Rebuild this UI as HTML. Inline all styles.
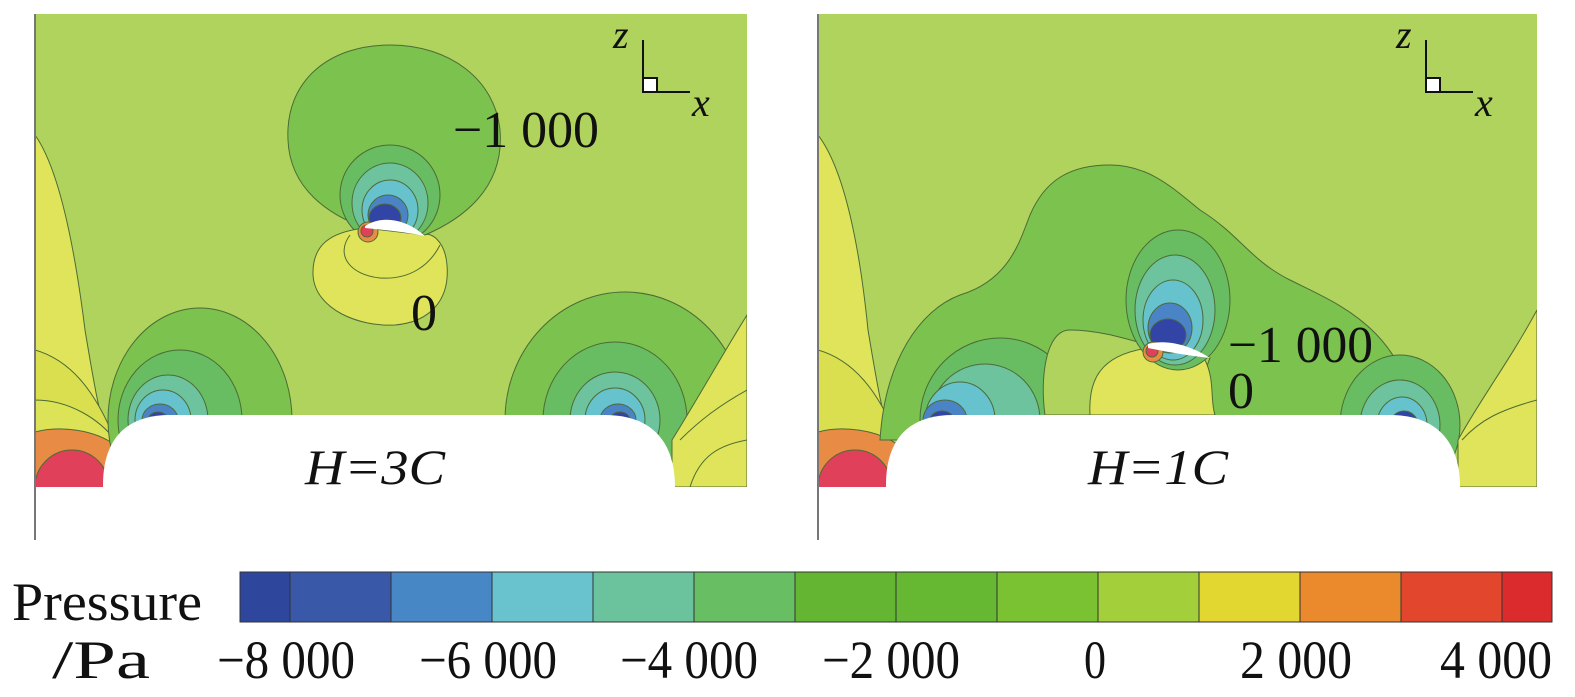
<!DOCTYPE html><html><head><style>body{margin:0;background:#fff}svg{display:block}text{font-family:"Liberation Serif",serif;fill:#111}</style></head><body>
<svg width="1575" height="697" viewBox="0 0 1575 697" xmlns="http://www.w3.org/2000/svg">
<defs>
<clipPath id="c1"><rect x="35" y="14" width="712" height="473"/></clipPath>
<clipPath id="c2"><rect x="818" y="14" width="719" height="473"/></clipPath>
</defs>
<g stroke="#4d6b35" stroke-width="1">
<!-- LEFT PANEL -->
<g clip-path="url(#c1)">
<rect x="35" y="14" width="712" height="473" fill="#afd35c" stroke="none"/>
<path d="M35,135 C60,170 75,250 85,330 C95,390 100,420 110,440 L35,440 Z" fill="#dfe45a"/>
<path d="M35,350 C70,360 95,390 115,440 L35,440 Z" fill="#d9df4e"/>
<path d="M35,400 C70,400 100,420 115,440 L35,487 Z" fill="#dde356"/>
<path d="M35,432 C60,425 95,430 115,445 L105,487 L35,487 Z" fill="#e88c45"/>
<circle cx="72" cy="487" r="37" fill="#e0405a"/>
<ellipse cx="200" cy="420" rx="92" ry="112" fill="#7bc24e"/>
<ellipse cx="180" cy="420" rx="62" ry="70" fill="#68bd62"/>
<ellipse cx="168" cy="420" rx="40" ry="45" fill="#6cc39d"/>
<ellipse cx="163" cy="420" rx="28" ry="30" fill="#66c2cc"/>
<ellipse cx="160" cy="420" rx="18" ry="16" fill="#4a84c6"/>
<ellipse cx="158" cy="420" rx="10" ry="8" fill="#3244a6"/>
<ellipse cx="625" cy="420" rx="120" ry="128" fill="#7bc24e"/>
<ellipse cx="615" cy="420" rx="72" ry="78" fill="#68bd62"/>
<ellipse cx="615" cy="420" rx="45" ry="48" fill="#6cc39d"/>
<ellipse cx="615" cy="420" rx="30" ry="32" fill="#66c2cc"/>
<ellipse cx="618" cy="420" rx="18" ry="16" fill="#4a84c6"/>
<ellipse cx="620" cy="420" rx="10" ry="8" fill="#3244a6"/>
<path d="M747,315 C725,350 700,395 672,440 L672,487 L747,487 Z" fill="#dfe45a"/>
<path d="M747,390 C720,405 700,420 680,440" fill="none"/>
<path d="M747,440 C720,445 700,455 690,487" fill="none"/>
<path d="M365,228 C330,215 290,190 288,140 C285,80 330,45 390,45 C450,45 495,80 500,130 C505,190 460,220 425,235 Z" fill="#7bc24e"/>
<ellipse cx="390" cy="195" rx="50" ry="50" fill="#68bd62"/>
<ellipse cx="390" cy="203" rx="38" ry="40" fill="#6cc39d"/>
<ellipse cx="390" cy="210" rx="28" ry="30" fill="#66c2cc"/>
<ellipse cx="388" cy="215" rx="20" ry="20" fill="#4a84c6"/>
<ellipse cx="385" cy="218" rx="16" ry="14" fill="#3244a6"/>
<path d="M365,228 C330,232 312,245 313,275 C315,310 360,327 395,325 C430,322 450,300 447,265 C445,240 430,232 425,235 Z" fill="#dfe45a"/>
<path d="M350,235 C335,255 350,275 380,278 C410,280 430,265 440,245" fill="none"/>
<circle cx="368" cy="232" r="10" fill="#e88c45"/>
<circle cx="367" cy="231" r="6" fill="#e0405a"/>
<path d="M365,226 C385,213 410,222 425,236 C405,232 385,230 365,228 Z" fill="#fff" stroke="none"/>
</g>
<path d="M103,487 L103,485 C103,440 125,415 170,415 L605,415 C650,415 675,440 675,487 Z" fill="#fff" stroke="none"/>
<!-- RIGHT PANEL -->
<g clip-path="url(#c2)">
<rect x="818" y="14" width="719" height="473" fill="#afd35c" stroke="none"/>
<path d="M818,135 C845,170 860,250 868,330 C878,390 883,420 893,440 L818,440 Z" fill="#dfe45a"/>
<path d="M818,350 C853,360 878,390 898,440 L818,440 Z" fill="#d9df4e"/>
<path d="M818,432 C843,425 878,430 898,445 L888,487 L818,487 Z" fill="#e88c45"/>
<circle cx="855" cy="487" r="37" fill="#e0405a"/>
<path d="M880,440 C885,360 920,310 960,295 C1010,280 1020,240 1030,215 C1045,180 1070,165 1110,165 C1150,165 1175,190 1200,210 C1240,235 1250,260 1290,280 C1340,305 1410,330 1420,440 Z" fill="#7bc24e"/>
<ellipse cx="1000" cy="420" rx="80" ry="82" fill="#68bd62"/>
<ellipse cx="985" cy="420" rx="55" ry="56" fill="#6cc39d"/>
<ellipse cx="960" cy="420" rx="35" ry="38" fill="#66c2cc"/>
<ellipse cx="945" cy="420" rx="22" ry="20" fill="#4a84c6"/>
<ellipse cx="942" cy="420" rx="12" ry="9" fill="#3244a6"/>
<ellipse cx="1400" cy="425" rx="60" ry="70" fill="#68bd62"/>
<ellipse cx="1400" cy="425" rx="40" ry="45" fill="#6cc39d"/>
<ellipse cx="1402" cy="425" rx="25" ry="28" fill="#66c2cc"/>
<ellipse cx="1404" cy="425" rx="14" ry="14" fill="#3244a6"/>
<path d="M1537,310 C1510,360 1480,400 1458,440 L1458,487 L1537,487 Z" fill="#dfe45a"/>
<path d="M1537,400 C1500,410 1480,420 1462,440" fill="none"/>
<path d="M1045,415 C1040,380 1045,330 1070,330 C1100,330 1130,340 1148,345 L1210,358 C1200,380 1210,400 1215,415 Z" fill="#afd35c"/>
<path d="M1090,415 C1088,380 1100,355 1148,348 C1170,350 1190,355 1205,360 C1215,380 1210,400 1215,415 Z" fill="#dfe45a"/>
<ellipse cx="1178" cy="300" rx="52" ry="70" fill="#68bd62"/>
<ellipse cx="1175" cy="310" rx="40" ry="55" fill="#6cc39d"/>
<ellipse cx="1173" cy="320" rx="30" ry="40" fill="#66c2cc"/>
<ellipse cx="1170" cy="328" rx="22" ry="25" fill="#4a84c6"/>
<ellipse cx="1168" cy="335" rx="18" ry="16" fill="#3244a6"/>
<circle cx="1153" cy="352" r="10" fill="#e88c45"/>
<circle cx="1152" cy="351" r="6" fill="#e0405a"/>
<path d="M1148,344 C1170,338 1195,348 1210,358 C1190,356 1168,352 1148,348 Z" fill="#fff" stroke="none"/>
</g>
<path d="M886,487 L886,485 C886,440 908,415 953,415 L1390,415 C1435,415 1460,440 1460,487 Z" fill="#fff" stroke="none"/>
</g>
<path d="M35,14 V540" stroke="#777" stroke-width="2"/>
<path d="M818,14 V540" stroke="#777" stroke-width="2"/>
<g stroke="#111" stroke-width="2" fill="none">
<path d="M643,40 V92 H690"/><rect x="643" y="78" width="14" height="14" fill="#fff"/>
<path d="M1426,40 V92 H1473"/><rect x="1426" y="78" width="14" height="14" fill="#fff"/>
</g>
<g font-style="italic" font-size="40">
<text x="613" y="48">z</text><text x="692" y="116">x</text>
<text x="1396" y="48">z</text><text x="1475" y="116">x</text>
<text x="305" y="484" font-size="50" textLength="140" lengthAdjust="spacingAndGlyphs">H=3C</text>
<text x="1088" y="484" font-size="50" textLength="140" lengthAdjust="spacingAndGlyphs">H=1C</text>
</g>
<g font-size="52">
<text x="453" y="147" textLength="146" lengthAdjust="spacingAndGlyphs">−1 000</text>
<text x="411" y="330" textLength="26" lengthAdjust="spacingAndGlyphs">0</text>
<text x="1228" y="362" textLength="145" lengthAdjust="spacingAndGlyphs">−1 000</text>
<text x="1228" y="408" textLength="26" lengthAdjust="spacingAndGlyphs">0</text>
</g>
<g stroke="#333" stroke-width="1">
<rect x="240" y="572" width="50" height="50" fill="#2e479d"/>
<rect x="290" y="572" width="101" height="50" fill="#3a58a8"/>
<rect x="391" y="572" width="101" height="50" fill="#4787c6"/>
<rect x="492" y="572" width="101" height="50" fill="#69c3cf"/>
<rect x="593" y="572" width="101" height="50" fill="#6bc39e"/>
<rect x="694" y="572" width="101" height="50" fill="#67be63"/>
<rect x="795" y="572" width="101" height="50" fill="#64b632"/>
<rect x="896" y="572" width="101" height="50" fill="#66b833"/>
<rect x="997" y="572" width="101" height="50" fill="#7ac232"/>
<rect x="1098" y="572" width="101" height="50" fill="#a3cf3a"/>
<rect x="1199" y="572" width="101" height="50" fill="#e2d631"/>
<rect x="1300" y="572" width="101" height="50" fill="#ea8a2c"/>
<rect x="1401" y="572" width="101" height="50" fill="#e2472d"/>
<rect x="1502" y="572" width="50" height="50" fill="#dc2b2d"/>
</g>
<g font-size="54">
<text x="12" y="620" textLength="190" lengthAdjust="spacingAndGlyphs">Pressure</text>
<text x="52" y="678" textLength="98" lengthAdjust="spacingAndGlyphs">/Pa</text>
<text x="217" y="678" textLength="138" lengthAdjust="spacingAndGlyphs">−8 000</text>
<text x="419" y="678" textLength="138" lengthAdjust="spacingAndGlyphs">−6 000</text>
<text x="620" y="678" textLength="138" lengthAdjust="spacingAndGlyphs">−4 000</text>
<text x="822" y="678" textLength="138" lengthAdjust="spacingAndGlyphs">−2 000</text>
<text x="1084" y="678" textLength="22" lengthAdjust="spacingAndGlyphs">0</text>
<text x="1240" y="678" textLength="112" lengthAdjust="spacingAndGlyphs">2 000</text>
<text x="1440" y="678" textLength="112" lengthAdjust="spacingAndGlyphs">4 000</text>
</g>
</svg>
</body></html>
